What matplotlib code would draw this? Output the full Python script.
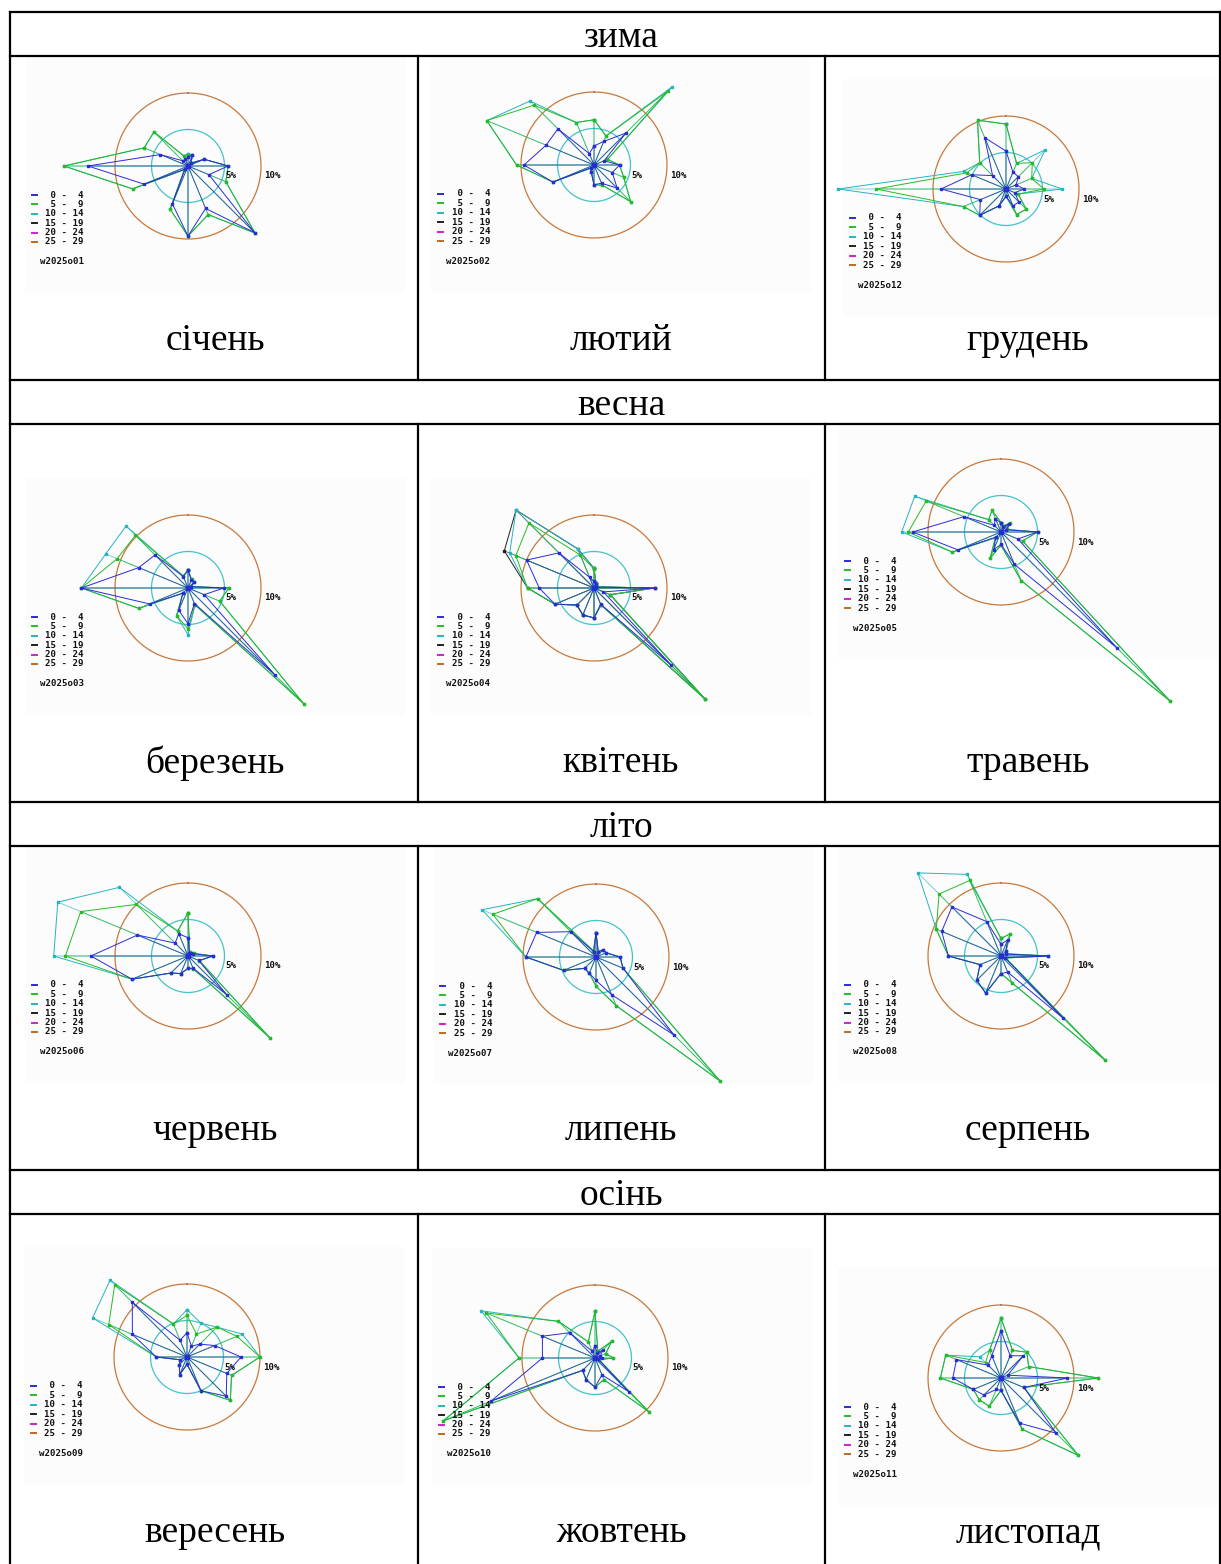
import matplotlib.pyplot as plt
import numpy as np


# 16 compass directions, clockwise from north
DIRS = ['N', 'NNE', 'NE', 'ENE', 'E', 'ESE', 'SE', 'SSE',
        'S', 'SSW', 'SW', 'WSW', 'W', 'WNW', 'NW', 'NNW']

CLASS_LABELS = [' 0 -  4', ' 5 -  9', '10 - 14', '15 - 19', '20 - 24', '25 - 29']
CLASS_COLORS = ['#2b2bd6', '#25bb25', '#25b5c0', '#202020', '#d020d0', '#c0681e']

SEASONS = ['зима', 'весна', 'літо', 'осінь']
MONTHS = [['січень', 'лютий', 'грудень'],
          ['березень', 'квітень', 'травень'],
          ['червень', 'липень', 'серпень'],
          ['вересень', 'жовтень', 'листопад']]
CODES = [['w2025o01', 'w2025o02', 'w2025o12'],
         ['w2025o03', 'w2025o04', 'w2025o05'],
         ['w2025o06', 'w2025o07', 'w2025o08'],
         ['w2025o09', 'w2025o10', 'w2025o11']]

# cumulative frequency (%) per direction: classes 0-4, up to 5-9, up to 10-14
jan_04 = [1.2, 1.6, 0.5, 2.4, 5.5, 3.1, 12.9, 6.3, 9.6, 5.6, 0.6, 6.5, 13.7, 4.1, 1.0, 1.0]
jan_59 = [1.5, 1.6, 0.6, 2.4, 5.5, 5.6, 13.0, 7.2, 9.6, 6.4, 0.7, 8.2, 17.0, 6.5, 6.6, 1.5]
jan_1014 = [1.7, 1.6, 0.6, 2.4, 5.5, 5.6, 13.0, 7.2, 9.6, 6.4, 0.7, 8.2, 17.0, 6.5, 6.6, 1.5]

feb_04 = [2.6, 3.5, 6.2, 1.5, 3.5, 2.7, 4.5, 2.7, 2.7, 1.0, 0.5, 6.1, 9.6, 7.1, 7.0, 1.7]
feb_59 = [6.2, 4.3, 14.3, 2.0, 3.5, 4.4, 7.1, 3.0, 2.7, 1.0, 0.6, 6.1, 10.6, 15.9, 11.6, 6.3]
feb_1014 = [6.2, 4.3, 15.2, 2.0, 3.5, 4.4, 7.1, 3.0, 2.7, 1.0, 0.6, 6.1, 10.6, 15.9, 12.4, 6.3]

dec_04 = [5.2, 2.5, 2.4, 1.5, 2.5, 1.3, 2.5, 2.5, 1.0, 2.5, 5.1, 3.8, 8.9, 5.1, 2.6, 7.6]
dec_59 = [8.9, 3.8, 5.1, 3.8, 5.2, 1.8, 3.9, 3.8, 1.0, 2.5, 5.1, 6.3, 17.8, 5.8, 5.1, 10.2]
dec_1014 = [8.9, 3.8, 7.6, 3.8, 7.7, 1.8, 3.9, 3.8, 1.0, 2.5, 5.1, 6.3, 23.0, 6.3, 5.1, 10.2]

mar_04 = [2.4, 1.2, 1.2, 0.5, 4.9, 2.4, 16.8, 2.3, 4.9, 3.3, 1.0, 5.7, 14.6, 7.3, 6.4, 1.7]
mar_59 = [2.4, 1.3, 1.2, 0.5, 5.6, 4.7, 22.4, 2.5, 5.6, 4.1, 1.0, 7.3, 14.6, 10.5, 10.2, 1.8]
mar_1014 = [2.4, 1.3, 1.2, 0.5, 5.6, 4.7, 22.4, 2.5, 6.4, 4.1, 1.0, 7.3, 14.6, 12.2, 12.0, 1.8]

apr_04 = [0.9, 0.6, 0.3, 0.3, 8.3, 1.4, 15.0, 2.4, 4.1, 4.0, 3.3, 5.8, 7.5, 10.0, 6.8, 1.6]
apr_59 = [2.6, 0.7, 0.4, 0.4, 8.3, 2.4, 21.5, 2.5, 4.1, 4.0, 3.3, 5.8, 9.1, 11.6, 12.6, 4.9]
apr_1014 = [2.7, 0.7, 0.4, 0.4, 8.3, 2.4, 21.5, 2.5, 4.1, 4.0, 3.3, 5.8, 9.1, 12.5, 15.1, 5.8]
apr_1519 = [2.7, 0.7, 0.4, 0.4, 8.3, 2.4, 21.5, 2.5, 4.1, 4.0, 3.3, 5.8, 9.1, 13.3, 15.1, 5.8]

may_04 = [1.2, 0.8, 1.6, 0.8, 5.0, 2.5, 22.4, 4.8, 1.7, 2.6, 1.0, 6.4, 12.1, 5.5, 1.3, 2.0]
may_59 = [1.3, 0.9, 1.7, 0.9, 5.0, 3.2, 32.7, 7.2, 1.8, 3.9, 1.1, 7.2, 12.7, 11.1, 2.4, 3.2]
may_1014 = [1.3, 0.9, 1.7, 0.9, 5.0, 3.2, 32.7, 7.2, 1.8, 3.9, 1.1, 7.2, 13.6, 12.8, 2.4, 3.2]

jun_04 = [2.5, 0.5, 0.5, 0.8, 3.4, 1.6, 7.5, 1.8, 1.7, 2.6, 3.3, 8.3, 13.3, 7.5, 2.5, 3.3]
jun_59 = [5.9, 0.6, 0.6, 0.9, 3.4, 1.7, 15.8, 1.9, 1.7, 2.6, 3.3, 8.3, 16.8, 15.9, 10.0, 3.7]
jun_1014 = [5.9, 0.6, 0.6, 0.9, 3.4, 1.7, 15.8, 1.9, 1.7, 2.6, 3.3, 8.3, 18.4, 19.3, 13.3, 3.7]

jul_04 = [3.3, 0.8, 1.4, 1.5, 3.3, 4.0, 15.1, 5.6, 3.2, 2.4, 2.2, 4.8, 9.6, 8.8, 4.9, 0.8]
jul_59 = [3.3, 0.8, 1.4, 1.5, 3.3, 4.0, 24.0, 7.2, 4.0, 2.4, 2.2, 4.8, 9.6, 15.3, 11.3, 0.9]
jul_1014 = [3.3, 0.8, 1.4, 1.5, 3.3, 4.0, 24.0, 7.2, 4.0, 2.4, 2.2, 4.8, 9.6, 16.9, 11.3, 0.9]

aug_04 = [1.6, 2.4, 0.9, 0.7, 6.5, 0.6, 12.1, 2.4, 2.4, 5.5, 4.7, 3.1, 7.2, 8.8, 9.5, 5.1]
aug_59 = [2.4, 3.3, 1.0, 0.8, 6.5, 0.7, 20.2, 4.0, 2.4, 5.5, 4.7, 3.1, 7.2, 9.6, 12.0, 11.2]
aug_1014 = [2.4, 3.3, 1.0, 0.8, 6.5, 0.7, 20.2, 4.0, 2.4, 5.5, 4.7, 3.1, 7.2, 9.6, 16.1, 12.1]

sep_04 = [3.3, 1.6, 2.5, 4.1, 7.4, 5.9, 7.6, 5.0, 1.0, 2.6, 1.5, 1.0, 4.2, 8.1, 10.6, 2.5]
sep_59 = [5.7, 3.4, 5.8, 7.4, 10.0, 6.6, 8.4, 5.0, 1.0, 2.6, 1.5, 1.0, 4.2, 11.6, 14.0, 4.9]
sep_1014 = [6.5, 5.0, 5.8, 8.2, 10.0, 6.6, 8.4, 5.0, 1.0, 2.6, 1.5, 1.0, 4.2, 14.0, 14.9, 4.9]

oct_04 = [1.6, 0.8, 1.5, 0.8, 0.9, 0.5, 6.5, 2.5, 4.0, 3.2, 2.4, 15.4, 7.2, 7.8, 4.9, 1.0]
oct_59 = [6.4, 1.0, 3.2, 1.6, 2.5, 0.6, 10.4, 3.2, 4.0, 3.2, 2.4, 22.5, 10.4, 16.1, 7.1, 2.4]
oct_1014 = [6.4, 1.0, 3.2, 1.6, 2.5, 0.6, 10.4, 3.2, 4.0, 3.2, 2.4, 22.5, 10.4, 16.9, 7.1, 2.4]

nov_04 = [6.5, 3.3, 4.3, 1.0, 9.1, 3.4, 10.7, 6.7, 1.7, 1.7, 3.3, 4.1, 6.6, 6.6, 2.5, 3.3]
nov_59 = [8.2, 4.1, 5.0, 4.1, 13.3, 3.4, 15.0, 7.6, 1.7, 4.2, 4.2, 4.1, 8.3, 8.2, 3.0, 4.1]
nov_1014 = [8.2, 4.1, 5.0, 4.1, 13.3, 3.4, 15.0, 7.6, 1.7, 4.2, 4.2, 4.1, 8.3, 8.2, 4.1, 4.1]

ROSES = [[[jan_04, jan_59, jan_1014], [feb_04, feb_59, feb_1014], [dec_04, dec_59, dec_1014]],
         [[mar_04, mar_59, mar_1014], [apr_04, apr_59, apr_1014, apr_1519], [may_04, may_59, may_1014]],
         [[jun_04, jun_59, jun_1014], [jul_04, jul_59, jul_1014], [aug_04, aug_59, aug_1014]],
         [[sep_04, sep_59, sep_1014], [oct_04, oct_59, oct_1014], [nov_04, nov_59, nov_1014]]]


W, H = 1221, 1564
K = 7.3      # pixels per percent
R = 260      # half size of each rose axes, pixels

COL_X = [10, 418, 825, 1220]
TEXT_X = [215, 621, 1028]
HEAD_TOP = [12, 380, 802, 1170]
HEAD_H = 44
ROW_BOTTOM = [380, 802, 1170, 1564]
MONTH_Y = [341, 763, 1131, 1533]
CENTERS = [[(188, 166), (594, 165), (1006, 189)],
           [(188, 588), (594, 588), (1001, 532)],
           [(188, 956), (596, 957), (1001, 956)],
           [(187, 1357), (595, 1358), (1001, 1378)]]

MONO = dict(family='DejaVu Sans Mono', weight='bold', fontsize=6.6, color='#111111')


def draw_rose(ax, classes, code):
    theta = np.deg2rad(np.arange(len(DIRS)) * 22.5)
    t = np.linspace(0, 2 * np.pi, 300)
    ax.plot(5 * np.sin(t), 5 * np.cos(t), color='#45c3c8', lw=0.9)
    ax.plot(10 * np.sin(t), 10 * np.cos(t), color='#c8783a', lw=0.9)

    for i in reversed(range(len(classes))):
        r = np.array(classes[i])
        x = r * np.sin(theta)
        y = r * np.cos(theta)
        col = CLASS_COLORS[i]
        sx = np.column_stack([np.zeros_like(x), x, np.full_like(x, np.nan)]).ravel()
        sy = np.column_stack([np.zeros_like(y), y, np.full_like(y, np.nan)]).ravel()
        ax.plot(sx, sy, color=col, lw=0.6, alpha=0.7, clip_on=False)
        ax.plot(np.append(x, x[0]), np.append(y, y[0]), color=col, lw=0.7,
                marker='s', ms=1.6, clip_on=False)
    ax.plot([0], [0], 's', color=CLASS_COLORS[0], ms=3)

    ax.text(37 / K, -10 / K, '5%', ha='left', va='center', **MONO)
    ax.text(76 / K, -10 / K, '10%', ha='left', va='center', **MONO)

    for i, lab in enumerate(CLASS_LABELS):
        y = -(29 + 9.4 * i) / K
        ax.plot([-156 / K, -151 / K], [y, y], color=CLASS_COLORS[i], lw=1.4)
        ax.text(-104 / K, y, lab, ha='right', va='center', **MONO)
    ax.text(-104 / K, -96 / K, code, ha='right', va='center', **MONO)


fig = plt.figure(figsize=(W / 100, H / 100), dpi=100)
base = fig.add_axes([0, 0, 1, 1])
base.set_xlim(0, W)
base.set_ylim(H, 0)
base.axis('off')

# faint picture backgrounds
for row in CENTERS:
    for cx, cy in row:
        base.add_patch(plt.Rectangle((cx - 163, cy - 110), 380, 237,
                                     color='#fcfcfc', lw=0, zorder=0))

# table grid
for top in HEAD_TOP:
    base.plot([COL_X[0], COL_X[-1]], [top, top], color='black', lw=1.6)
    base.plot([COL_X[0], COL_X[-1]], [top + HEAD_H, top + HEAD_H], color='black', lw=1.6)
for x in [COL_X[0], COL_X[-1]]:
    base.plot([x, x], [HEAD_TOP[0], H], color='black', lw=1.6)
for r in range(4):
    for x in COL_X[1:3]:
        base.plot([x, x], [HEAD_TOP[r] + HEAD_H, ROW_BOTTOM[r]], color='black', lw=1.6)

for r in range(4):
    base.text(621, HEAD_TOP[r] + HEAD_H / 2 + 4, SEASONS[r],
              ha='center', va='center', family='Liberation Serif', fontsize=27)
    for c in range(3):
        base.text(TEXT_X[c], MONTH_Y[r], MONTHS[r][c],
                  ha='center', va='center', family='Liberation Serif', fontsize=27)

        cx, cy = CENTERS[r][c]
        ax = fig.add_axes([(cx - R) / W, 1 - (cy + R) / H, 2 * R / W, 2 * R / H])
        ax.set_xlim(-R / K, R / K)
        ax.set_ylim(-R / K, R / K)
        ax.axis('off')
        ax.patch.set_visible(False)
        draw_rose(ax, ROSES[r][c], CODES[r][c])

fig.savefig('out.png', dpi=100)
